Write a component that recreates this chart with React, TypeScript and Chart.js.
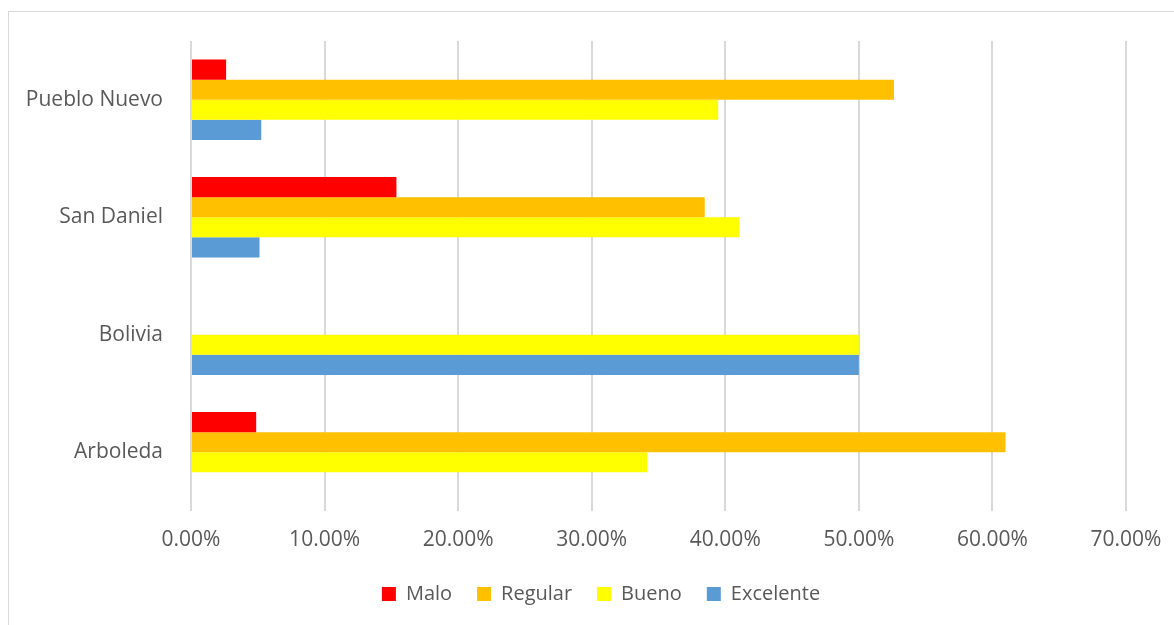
import React, { useEffect, useRef } from "react";
import { Chart, registerables } from "chart.js";

Chart.register(...registerables);

const categories = ["Pueblo Nuevo", "San Daniel", "Bolivia", "Arboleda"];
const seriesNames = ["Malo", "Regular", "Bueno", "Excelente"];
const malo = [2.63, 15.38, 0, 4.88];
const regular = [52.63, 38.46, 0, 60.98];
const bueno = [39.47, 41.03, 50.0, 34.15];
const excelente = [5.26, 5.13, 50.0, 0];
const seriesColors = ["#FF0000", "#FFC000", "#FFFF00", "#5B9BD5"];
const xTicks = [0, 10, 20, 30, 40, 50, 60, 70];

const FONT = "'Open Sans', sans-serif";
const TEXT = "#595959";

const shiftLegend = {
  id: "shiftLegend",
  afterLayout(chart: any) {
    const lg = chart.legend;
    if (lg) {
      lg.left += 38;
      lg.right += 38;
    }
  },
};

export default function App() {
  const ref = useRef<HTMLCanvasElement | null>(null);

  useEffect(() => {
    document.body.style.margin = "0";
    document.body.style.overflow = "hidden";
    const values = [malo, regular, bueno, excelente];
    const chart = new Chart(ref.current as HTMLCanvasElement, {
      type: "bar",
      data: {
        labels: categories,
        datasets: seriesNames.map((name, i) => ({
          label: name,
          data: values[i],
          backgroundColor: seriesColors[i],
          borderWidth: 0,
          categoryPercentage: 0.685,
          barPercentage: 1,
        })),
      },
      plugins: [shiftLegend],
      options: {
        indexAxis: "y",
        animation: false,
        responsive: false,
        maintainAspectRatio: false,
        layout: { padding: { left: 0, right: 48, top: 41, bottom: 11 } },
        plugins: {
          tooltip: { enabled: false },
          legend: {
            position: "bottom",
            labels: {
              boxWidth: 14,
              boxHeight: 14,
              padding: 25,
              color: TEXT,
              font: { family: FONT, size: 20 },
            },
          },
        },
        scales: {
          x: {
            min: 0,
            max: 70,
            afterBuildTicks: (scale: any) => {
              scale.ticks = xTicks.map((v) => ({ value: v }));
            },
            afterFit: (scale: any) => {
              scale.height = 48;
              scale.paddingLeft = 0;
              scale.paddingRight = 0;
            },
            ticks: {
              padding: 16,
              color: TEXT,
              font: { family: FONT, size: 21 },
              callback: (v: any) => Number(v).toFixed(2) + "%",
              maxRotation: 0,
            },
            grid: { color: "#d9d9d9", lineWidth: 2, drawTicks: false },
            border: { display: false },
          },
          y: {
            afterFit: (scale: any) => {
              scale.width = 191;
            },
            ticks: {
              padding: 28,
              color: TEXT,
              font: { family: FONT, size: 21 },
            },
            grid: { display: false, drawTicks: false },
            border: { display: false },
          },
        },
      },
    });
    return () => chart.destroy();
  }, []);

  return (
    <div style={{ position: "relative", width: 1174, height: 625, overflow: "hidden", background: "#fff" }}>
      <div
        style={{
          position: "absolute",
          left: 8,
          top: 11,
          width: 1200,
          height: 700,
          border: "1px solid #d9d9d9",
          boxSizing: "border-box",
        }}
      />
      <canvas ref={ref} width={1174} height={625} style={{ position: "absolute", left: 0, top: 0 }} />
    </div>
  );
}
